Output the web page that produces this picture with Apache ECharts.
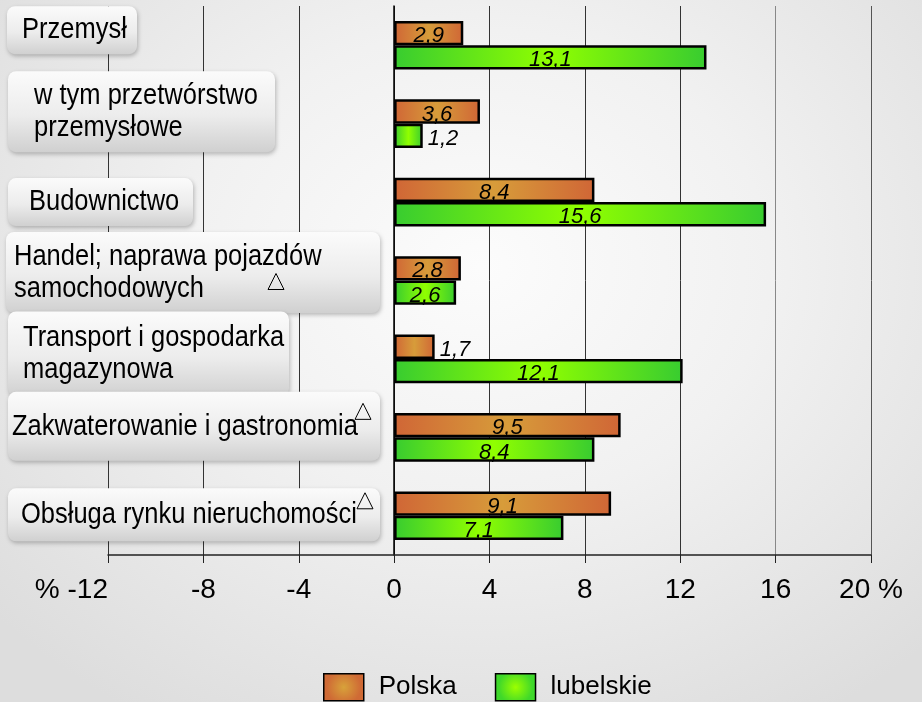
<!DOCTYPE html>
<html>
<head>
<meta charset="utf-8">
<title>Przemysł, budownictwo, usługi</title>
<script src="https://cdn.jsdelivr.net/npm/echarts@6/dist/echarts.min.js"></script>
<style>
  html, body { margin: 0; padding: 0; }
  #chart {
    width: 922px;
    height: 702px;
    background: radial-gradient(ellipse 70% 75% at 52% 38%, #fcfcfc 0%, #f1f1f1 45%, #dddddd 100%);
  }
</style>
</head>
<body>
<div id="chart"></div>
<script>
// data
const categories = [
  'Przemysł',
  'w tym przetwórstwo\nprzemysłowe',
  'Budownictwo',
  'Handel; naprawa pojazdów\nsamochodowych',
  'Transport i gospodarka\nmagazynowa',
  'Zakwaterowanie i gastronomia',
  'Obsługa rynku nieruchomości'
]
const polska = [2.9, 3.6, 8.4, 2.8, 1.7, 9.5, 9.1]
const lubelskie = [13.1, 1.2, 15.6, 2.6, 12.1, 8.4, 7.1]
const xTickValues = [-12, -8, -4, 0, 4, 8, 12, 16, 20]
const xTickLabels = ['% -12', '-8', '-4', '0', '4', '8', '12', '16', '20 %']

// label boxes on the left (pixels): left, width, height, shift from band centre, text indent, triangle mark
const boxes = [
  { x: 7, w: 130, h: 48, dy: -15, tx: 15 },
  { x: 8, w: 267, h: 81, dy: -12, tx: 26 },
  { x: 8, w: 185, h: 48, dy: 0, tx: 21 },
  { x: 6, w: 374, h: 81, dy: -8, tx: 8, tri: [268, -7] },
  { x: 8, w: 281, h: 85, dy: -5, tx: 15 },
  { x: 8, w: 372, h: 69, dy: -11, tx: 4, tri: [355, -34] },
  { x: 8, w: 372, h: 53, dy: -1, tx: 13, tri: [357, -23] }
]

// no narrow font installed: plain Arial metrics, squeezed where we can
const FONT = '"Liberation Sans", Arial, sans-serif'
const NARROW = 0.85

const fmt = v => String(v).replace('.', ',')

const orange = new echarts.graphic.LinearGradient(0, 0, 1, 0, [
  { offset: 0, color: '#d06636' },
  { offset: 0.5, color: '#d79c3a' },
  { offset: 1, color: '#d06636' }
])
const green = new echarts.graphic.LinearGradient(0, 0, 1, 0, [
  { offset: 0, color: '#38cc30' },
  { offset: 0.5, color: '#90ff00' },
  { offset: 1, color: '#38cc30' }
])

const barLabel = {
  show: true,
  position: 'inside',
  offset: [0, 3],
  formatter: p => fmt(p.value),
  fontFamily: FONT,
  fontStyle: 'italic',
  fontSize: 22,
  color: '#000'
}

const withSmall = arr => arr.map(v => v < 2
  ? { value: v, label: { position: 'right', distance: 5 } }
  : v)

function renderBox (params, api) {
  const i = params.dataIndex
  const b = boxes[i]
  const yc = api.coord([0, i])[1]
  const cy = yc + b.dy
  const children = [
    {
      type: 'rect',
      shape: { x: b.x, y: cy - b.h / 2, width: b.w, height: b.h, r: 8 },
      style: {
        fill: new echarts.graphic.LinearGradient(0, 0, 0, 1, [
          { offset: 0, color: '#fbfbfb' },
          { offset: 0.55, color: '#ececec' },
          { offset: 1, color: '#d0d0d0' }
        ]),
        shadowBlur: 4,
        shadowOffsetX: 1,
        shadowOffsetY: 2,
        shadowColor: 'rgba(0,0,0,0.25)'
      }
    },
    {
      type: 'text',
      x: b.x + b.tx,
      y: cy,
      scaleX: NARROW,
      style: {
        text: categories[i],
        fontFamily: FONT,
        fontSize: 30,
        lineHeight: 32,
        fill: '#000',
        align: 'left',
        verticalAlign: 'middle'
      }
    }
  ]
  if (b.tri) {
    const tx = b.tri[0]
    const ty = yc + b.tri[1]
    children.push({
      type: 'polygon',
      shape: { points: [[tx + 8, ty], [tx, ty + 16], [tx + 16, ty + 16]] },
      style: { fill: 'none', stroke: '#000', lineWidth: 1 }
    })
  }
  return { type: 'group', children }
}

const chart = echarts.init(document.getElementById('chart'))
chart.setOption({
  animation: false,
  backgroundColor: 'transparent',
  grid: { left: 108, right: 51, top: 6, bottom: 147 },
  legend: {
    left: 323,
    top: 673,
    padding: 0,
    icon: 'rect',
    itemWidth: 40,
    itemHeight: 27,
    itemGap: 38,
    textStyle: { fontFamily: FONT, fontSize: 26, color: '#000', padding: [0, 0, 0, 10] },
    data: [
      {
        name: 'Polska',
        itemStyle: {
          color: new echarts.graphic.RadialGradient(0.5, 0.5, 0.6, [
            { offset: 0, color: '#d8a23a' },
            { offset: 1, color: '#cf6a35' }
          ]),
          borderColor: '#000',
          borderWidth: 1.5
        }
      },
      {
        name: 'lubelskie',
        itemStyle: {
          color: new echarts.graphic.RadialGradient(0.5, 0.5, 0.6, [
            { offset: 0, color: '#9cff00' },
            { offset: 1, color: '#3fd82a' }
          ]),
          borderColor: '#000',
          borderWidth: 1.5
        }
      }
    ]
  },
  xAxis: {
    type: 'value',
    min: -12,
    max: 20,
    interval: 4,
    axisLine: { show: true, onZero: false, lineStyle: { color: '#222', width: 1.5 } },
    axisTick: { show: true, length: 8, lineStyle: { color: '#222' } },
    axisLabel: {
      margin: 21,
      fontFamily: FONT,
      fontSize: 28,
      color: '#000',
      alignMinLabel: 'right',
      formatter: v => xTickLabels[xTickValues.indexOf(v)]
    },
    splitLine: {
      show: true,
      lineStyle: {
        color: ['#333', '#333', '#333', '#333', '#333', '#333', '#333', '#888', '#555'],
        width: 1
      }
    }
  },
  yAxis: {
    type: 'category',
    inverse: true,
    data: categories,
    axisLine: { onZero: true, lineStyle: { color: '#000', width: 1.5 } },
    axisTick: { length: 6, lineStyle: { color: '#000' } },
    axisLabel: { show: false },
    splitLine: { show: false }
  },
  series: [
    {
      name: 'Polska',
      type: 'bar',
      data: withSmall(polska),
      barGap: '0%',
      barCategoryGap: '38%',
      itemStyle: { color: orange, borderColor: '#000', borderWidth: 2.5 },
      label: barLabel
    },
    {
      name: 'lubelskie',
      type: 'bar',
      data: withSmall(lubelskie),
      barGap: '0%',
      barCategoryGap: '38%',
      itemStyle: { color: green, borderColor: '#000', borderWidth: 2.5 },
      label: barLabel
    },
    {
      name: 'opisy',
      type: 'custom',
      renderItem: renderBox,
      data: categories.map((c, i) => [0, i]),
      encode: { x: 0, y: 1 },
      clip: false,
      silent: true,
      z: 3
    }
  ]
})

window.addEventListener('resize', () => chart.resize())
</script>
</body>
</html>
